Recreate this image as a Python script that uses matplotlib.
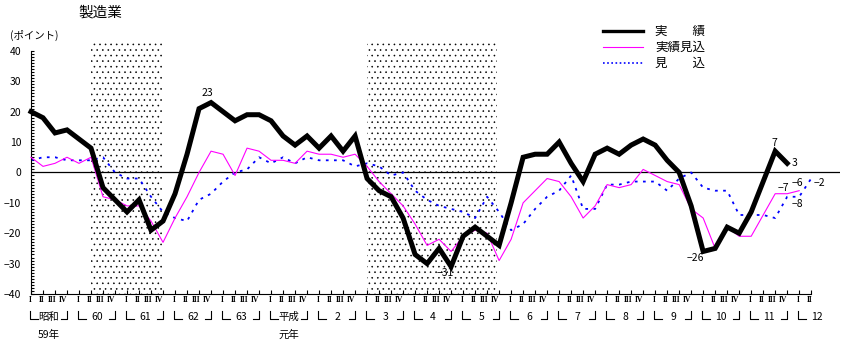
import matplotlib.pyplot as plt
from matplotlib.lines import Line2D

plt.rcParams['font.family'] = ['Noto Sans CJK JP', 'DejaVu Sans']
plt.rcParams['hatch.linewidth'] = 0.4

# quarters: 昭和59年 I  ..  平成12年 II
quarters = ["I", "II", "III", "IV"] * 16 + ["I", "II"]
year_labels = ["昭和", "60", "61", "62", "63", "平成", "2", "3", "4", "5",
               "6", "7", "8", "9", "10", "11", "12"]
year_sub = {0: "59年", 5: "元年"}

# 実績
jisseki = [20, 18, 13, 14, 11, 8, -5, -9, -13, -9, -19, -16, -7, 6, 21, 23,
           20, 17, 19, 19, 17, 12, 9, 12, 8, 12, 7, 12, -2, -6, -8, -15,
           -27, -30, -25, -31, -21, -18, -21, -24, -10, 5, 6, 6, 10, 3, -3, 6,
           8, 6, 9, 11, 9, 4, 0, -11, -26, -25, -18, -20, -13, -3, 7, 3]
# 実績見込
jisseki_mikomi = [5, 2, 3, 5, 3, 5, -8, -9, -11, -11, -16, -23, -15, -8, 0, 7,
                  6, -1, 8, 7, 4, 4, 3, 7, 6, 6, 5, 6, 2, -3, -7, -11,
                  -17, -24, -22, -26, -21, -19, -20, -29, -22, -10, -6, -2, -3, -8, -15, -11,
                  -4, -5, -4, 1, -1, -3, -4, -12, -15, -25, -18, -21, -21, -14, -7, -7,
                  -6]
# 見込
mikomi = [4, 5, 5, 4, 4, 4, 5, 0, -2, -2, -8, -13, -15, -16, -9, -7,
          -3, 0, 1, 5, 3, 5, 3, 5, 4, 4, 4, 2, 3, 2, -1, 0,
          -6, -9, -11, -12, -13, -15, -8, -13, -19, -17, -12, -8, -6, -1, -12, -12,
          -4, -4, -3, -3, -3, -6, -2, 0, -5, -6, -6, -14, -14, -14, -15, -8,
          -8, -2]

# 景気後退期 (quarter index)
recessions = [(5, 11), (28, 38.8)]

fig = plt.figure(figsize=(8.45, 3.48), dpi=100)
ax = fig.add_axes([31 / 845, 54 / 348, 809 / 845, 251 / 348])

for a, b in recessions:
    ax.axvspan(a, b, facecolor='none', edgecolor='black', hatch='...',
               linewidth=0, zorder=0)

ax.axhline(0, color='black', lw=0.9, zorder=1)

ax.plot(range(len(mikomi)), mikomi, color='#0000ff', lw=1.3,
        linestyle=(0, (1.5, 3)), zorder=2, clip_on=False)
ax.plot(range(len(jisseki_mikomi)), jisseki_mikomi, color='#ff00ff', lw=0.8,
        zorder=3, clip_on=False)
ax.plot(range(len(jisseki)), jisseki, color='black', lw=3.6,
        solid_joinstyle='miter', zorder=4, clip_on=False)

ax.set_xlim(0, 67.4)
ax.set_ylim(-40, 42.6)
for s in ['top', 'right']:
    ax.spines[s].set_visible(False)
ax.spines['left'].set_bounds(-40, 40)
ax.spines['bottom'].set_bounds(0, len(quarters) - 1)

ax.set_yticks(range(-40, 41, 10))
ax.set_yticks(range(-40, 41, 1), minor=True)
ax.tick_params(axis='y', which='both', direction='in', length=2, width=0.8,
               labelsize=7.5, pad=7)
ax.set_xticks(range(len(quarters)))
ax.set_xticklabels([])
ax.tick_params(axis='x', direction='in', length=3, width=0.8)

# value labels
def label(x, y, s, dx, dy):
    ax.annotate(s, (x, y), xytext=(dx, dy), textcoords='offset pixels',
                ha='center', va='center', fontsize=7.5)

label(15, jisseki[15], "23", -4, 10)
label(35, jisseki[35], "−31", -6, -6)
label(56, jisseki[56], "−26", -8, -7)
label(62, jisseki[62], "7", -1, 8)
label(63, jisseki[63], "3", 7, 0)
label(63, jisseki_mikomi[63], "−7", -4, 6)
label(64, jisseki_mikomi[64], "−6", -2, 8)
label(64, mikomi[64], "−8", -2, -7)
label(65, mikomi[65], "−2", 8, -4)

# quarter / year labels under the axis
trans = ax.get_xaxis_transform()
q_off = {"I": -0.08, "II": -0.12, "III": -0.25, "IV": -0.35}
for i, q in enumerate(quarters):
    ax.text(i + q_off[q], -0.024, q, transform=trans, ha='center', va='center',
            fontsize=5.5, family='Liberation Serif', weight='bold')

y_top, y_bot, y_lab = -0.068, -0.0996, -0.090
for k, yl in enumerate(year_labels):
    s = 4 * k
    ax.plot([s - 0.1, s - 0.1, s + 0.6], [y_top, y_bot, y_bot], transform=trans,
            color='black', lw=0.8, clip_on=False)
    if k < len(year_labels) - 1:
        ax.plot([s + 2.5, s + 3, s + 3], [y_bot, y_bot, y_top], transform=trans,
                color='black', lw=0.8, clip_on=False)
    ax.text(s + 1.5, y_lab, yl, transform=trans, ha='center', va='center',
            fontsize=7.5)
    if k in year_sub:
        ax.text(s + 1.5, -0.163, year_sub[k], transform=trans, ha='center',
                va='center', fontsize=7.5)

fig.text(78 / 845, 1 - 13 / 348, "製造業", fontsize=10.5, va='center')
fig.text(10 / 845, 1 - 35 / 348, "(ポイント)", fontsize=7.5, va='center')

# legend
leg = [("実　　績", dict(color='black', lw=2.4)),
       ("実績見込", dict(color='#ff00ff', lw=0.8)),
       ("見　　込", dict(color='#0000ff', lw=1.2, linestyle=(0, (1, 1.5))))]
for n, (txt, kw) in enumerate(leg):
    yy = 1 - (31 + 16 * n) / 348
    fig.add_artist(Line2D([603 / 845, 643 / 845], [yy, yy], **kw))
    fig.text(655 / 845, yy, txt, fontsize=9, va='center')

fig.savefig("out.png", dpi=100)
